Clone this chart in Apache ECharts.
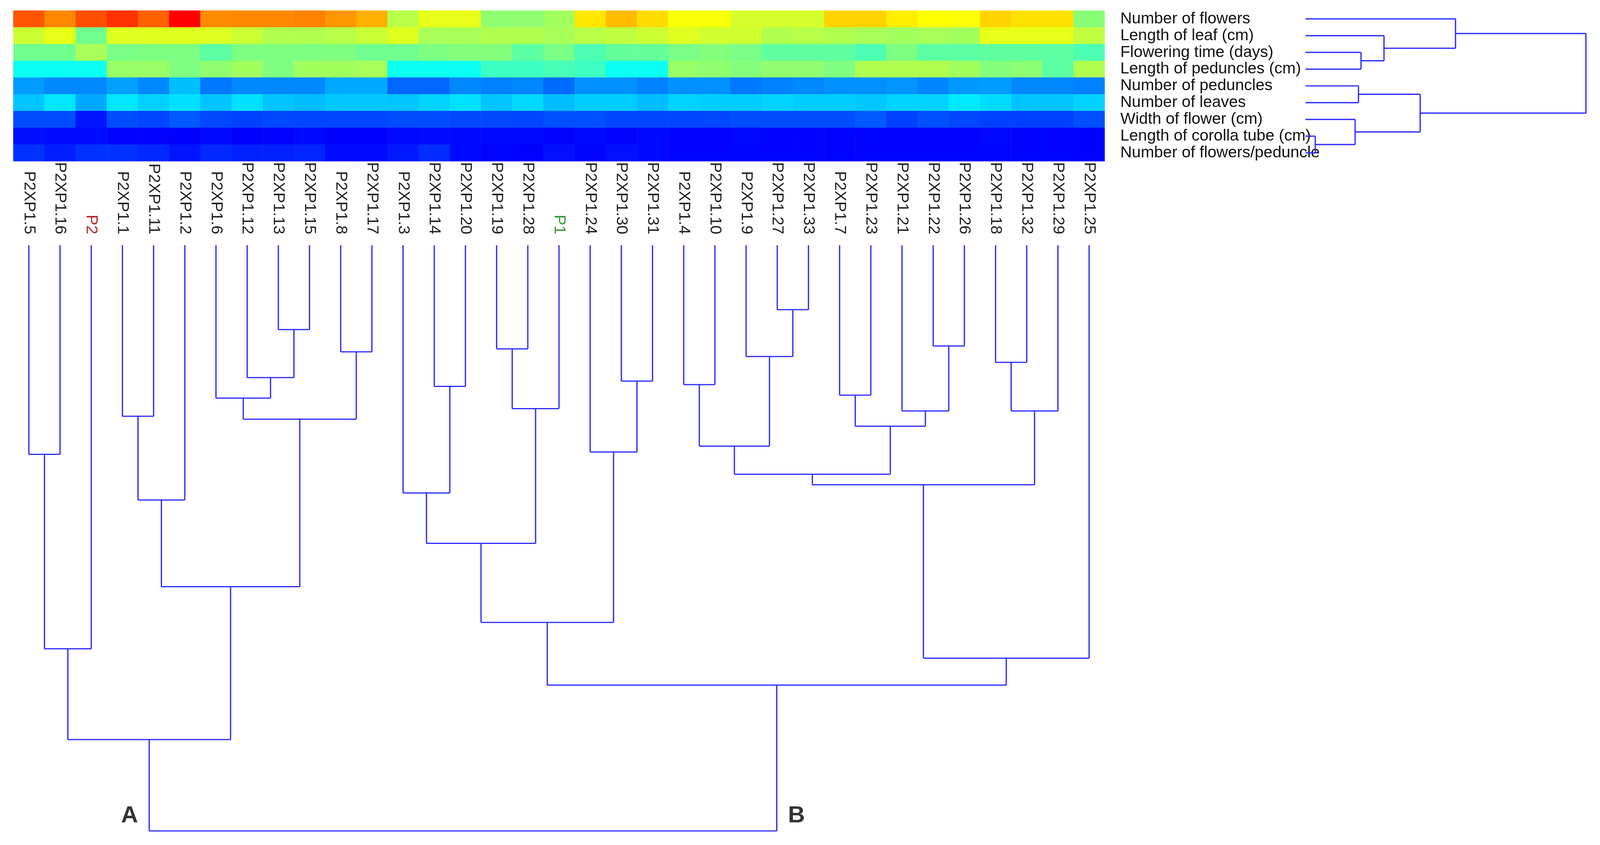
<!DOCTYPE html>
<html><head><meta charset="utf-8">
<script src="https://cdn.jsdelivr.net/npm/echarts@6/dist/echarts.min.js"></script>
<style>html,body{margin:0;padding:0;background:#fff}#c{width:4299px;height:2164px}</style>
</head><body><div id="c"></div><script>
// ---------- data ----------
const samples = ['P2XP1.5','P2XP1.16','P2','P2XP1.1','P2XP1.11','P2XP1.2','P2XP1.6','P2XP1.12','P2XP1.13','P2XP1.15','P2XP1.8','P2XP1.17','P2XP1.3','P2XP1.14','P2XP1.20','P2XP1.19','P2XP1.28','P1','P2XP1.24','P2XP1.30','P2XP1.31','P2XP1.4','P2XP1.10','P2XP1.9','P2XP1.27','P2XP1.33','P2XP1.7','P2XP1.23','P2XP1.21','P2XP1.22','P2XP1.26','P2XP1.18','P2XP1.32','P2XP1.29','P2XP1.25'];
const parentColors = {'P2':'#b52a2a','P1':'#3a9a3a'};
const traits = ['Number of flowers','Length of leaf (cm)','Flowering time (days)','Length of peduncles (cm)','Number of peduncles','Number of leaves','Width of flower (cm)','Length of corolla tube (cm)','Number of flowers/peduncle'];

const numberOfFlowers   = [32.9,30.6,33.2,34.5,32.4,36.7,30.4,30.6,30.6,30.9,29.9,28.8,22.0,24.2,24.2,20.2,20.2,21.0,26.3,28.3,26.8,24.9,24.9,23.3,23.3,23.3,27.2,27.2,26.0,25.2,25.0,27.2,26.6,26.6,19.9];
const lengthOfLeaf      = [22.9,24.2,18.8,23.8,23.8,23.8,23.7,22.9,21.7,21.7,22.0,22.8,23.8,21.3,21.3,21.7,21.7,21.3,22.0,22.4,22.9,23.8,23.1,23.1,21.7,22.0,21.7,21.3,21.0,21.3,21.0,24.2,24.2,24.2,22.4];
const floweringTime     = [18.8,18.8,21.3,19.2,19.5,19.4,17.9,19.4,19.5,19.4,19.5,18.8,18.8,19.4,19.7,19.7,17.9,19.2,17.2,18.3,18.3,19.2,19.7,19.2,18.1,18.1,18.1,17.2,19.4,17.9,17.9,18.1,18.1,17.9,17.2];
const lengthOfPeduncles = [14.3,14.3,14.3,20.6,20.6,19.5,20.2,21.0,19.5,21.0,21.0,21.3,14.3,14.3,14.3,16.5,16.5,17.0,16.5,14.3,14.3,20.6,20.2,19.7,20.2,20.2,19.5,21.7,21.7,21.7,21.0,19.7,20.1,17.9,21.7];
const numberOfPeduncles = [9.3,8.4,8.4,9.5,8.4,10.9,7.7,8.4,8.4,8.4,9.9,9.9,6.9,6.9,8.4,8.1,8.4,7.1,8.8,8.8,8.1,8.8,8.8,7.7,8.1,8.4,8.8,8.8,9.0,8.3,9.1,9.3,8.4,8.4,8.1];
const numberOfLeaves    = [11.1,12.7,9.9,12.7,11.7,12.4,11.1,12.4,11.1,10.8,11.3,11.3,11.1,11.8,12.4,11.1,12.0,10.8,11.5,11.5,10.8,11.8,11.5,11.5,11.8,11.5,11.5,11.3,11.8,11.8,12.8,12.2,11.1,11.1,11.8];
const widthOfFlower     = [5.7,5.7,3.2,5.7,5.4,6.3,5.5,5.2,5.5,5.4,5.4,5.4,5.7,5.7,5.5,5.5,5.4,5.9,5.9,5.4,5.4,5.4,5.5,5.7,5.7,5.7,5.7,6.3,5.2,5.9,5.5,5.2,5.2,5.2,5.9];
const lengthOfCorolla   = [3.0,2.8,2.8,2.5,2.5,2.3,2.7,2.3,2.5,2.7,2.3,2.3,2.7,2.8,2.7,2.7,2.7,2.5,2.7,2.5,2.7,2.5,2.5,2.6,2.5,2.5,2.5,2.4,2.5,2.5,2.5,2.6,2.5,2.5,2.3];
const flowersPerPeduncle= [4.5,3.6,4.5,4.5,4.1,3.2,4.1,3.7,3.7,3.9,2.8,2.8,3.4,4.3,2.7,2.5,2.3,3.0,2.5,3.0,2.7,2.5,2.5,2.5,2.5,2.5,2.5,2.5,2.5,2.5,2.5,2.5,2.5,2.5,2.3];

// linkage: [childA, childB, height]; indices >= leaf count refer to earlier merges
const sampleMerges = [
  [8,9,14.4],[7,35,22.6],[6,36,26.1],[10,11,18.2],[37,38,29.7],[3,4,29.2],[40,5,43.5],[41,39,58.3],
  [0,1,35.7],[43,2,68.9],[44,42,84.4],
  [13,14,24.1],[12,46,42.3],[15,16,17.7],[48,17,27.9],[47,49,50.9],[19,20,23.2],[18,51,35.3],[50,52,64.4],
  [24,25,11.0],[23,54,19.0],[21,22,23.8],[56,55,34.3],[26,27,25.6],[29,30,17.2],[28,59,28.3],[58,60,30.9],
  [57,61,39.1],[31,32,20.0],[63,33,28.3],[62,64,40.9],[65,34,70.5],[53,66,75.1],[45,67,100]
];
const traitMerges = [
  [2,3,19.8],[1,9,28.0],[0,10,53.5],[4,5,18.9],[7,8,3.5],[6,13,17.7],[12,14,40.9],[11,15,100]
];
const clusterLabels = [{name:'A', merge:10, side:-1}, {name:'B', merge:32, side:1}];
const colorbarTicks = [2.3, 13.8, 25.2, 36.7];
const valueMin = 2.3, valueMax = 36.7;

// ---------- build ----------
const traitRows = [numberOfFlowers,lengthOfLeaf,floweringTime,lengthOfPeduncles,numberOfPeduncles,numberOfLeaves,widthOfFlower,lengthOfCorolla,flowersPerPeduncle];
const heatData = [];
traitRows.forEach((row, r) => row.forEach((v, c) => heatData.push([c, r, v])));

function buildTree(merges, n) {
  const pos = [], ht = [], segs = [];
  for (let i = 0; i < n; i++) { pos.push(i); ht.push(0); }
  merges.forEach(([a, b, h]) => {
    segs.push([pos[a], ht[a], pos[a], h]);
    segs.push([pos[b], ht[b], pos[b], h]);
    segs.push([pos[a], h, pos[b], h]);
    pos.push((pos[a] + pos[b]) / 2); ht.push(h);
  });
  return { segs, pos, ht };
}
const colTree = buildTree(sampleMerges, samples.length);
const rowTree = buildTree(traitMerges, traits.length);
const rowSegs = rowTree.segs.map(s => [s[1], s[0], s[3], s[2]]);
const labelData = clusterLabels.map(l => {
  const node = samples.length + l.merge;
  return { value: [colTree.pos[node] + l.side * 0.63, 97.4], name: l.name };
});

const lineColor = '#2a2aff';
function segRender(params, api) {
  const p1 = api.coord([api.value(0), api.value(1)]);
  const p2 = api.coord([api.value(2), api.value(3)]);
  return { type: 'line', shape: { x1: p1[0], y1: p1[1], x2: p2[0], y2: p2[1] },
           style: { stroke: lineColor, lineWidth: 3.2 } };
}

const FONT = 'Liberation Sans, Arial, sans-serif';
const hidden = { show: false };
const chart = echarts.init(document.getElementById('c'));
chart.setOption({
  backgroundColor: '#ffffff',
  animation: false,
  grid: [
    { left: 34, top: 27, width: 2794, height: 386 },
    { left: 34, top: 628, width: 2794, height: 1500 },
    { left: 3342, top: 27, width: 718, height: 386 },
    { left: 4155, top: 711, width: 41, height: 710 }
  ],
  xAxis: [
    { gridIndex: 0, type: 'category', data: samples, show: false },
    { gridIndex: 1, type: 'value', min: -0.5, max: 34.5, show: false },
    { gridIndex: 1, type: 'category', position: 'top', data: samples.map(s => parentColors[s] ? { value: s, textStyle: { color: parentColors[s] } } : s),
      axisLine: hidden, axisTick: hidden, splitLine: hidden,
      axisLabel: { interval: 0, rotate: 90, margin: 28, fontSize: 41, color: '#222', fontFamily: FONT } },
    { gridIndex: 2, type: 'value', min: 0, max: 100, show: false },
    { gridIndex: 3, type: 'value', show: false }
  ],
  yAxis: [
    { gridIndex: 0, type: 'category', data: traits, inverse: true, position: 'right',
      axisLine: hidden, axisTick: hidden, splitLine: hidden,
      axisLabel: { interval: 0, margin: 40, fontSize: 41, color: '#111', fontFamily: FONT } },
    { gridIndex: 1, type: 'value', min: 0, max: 100, inverse: true, show: false },
    { gridIndex: 2, type: 'value', min: -0.5, max: 8.5, inverse: true, show: false },
    { gridIndex: 3, type: 'value', min: valueMin, max: valueMax, position: 'right',
      axisLine: hidden, axisTick: hidden, splitLine: hidden,
      axisLabel: { customValues: colorbarTicks, margin: 10, fontSize: 38, color: '#222', fontFamily: FONT,
                   formatter: v => v.toFixed(1) } }
  ],
  visualMap: {
    type: 'continuous', min: valueMin, max: valueMax, seriesIndex: 0, calculable: false,
    orient: 'vertical', left: 4155, top: 711, itemWidth: 41, itemHeight: 710, padding: 0,
    inRange: { color: ['#0000ff', '#00ffff', '#ffff00', '#ff0000'] },
    controller: { inRange: { color: ['#4040ff', '#40ffff', '#ffff40', '#ff4040'] } }
  },
  series: [
    { type: 'heatmap', xAxisIndex: 0, yAxisIndex: 0, data: heatData, itemStyle: { borderWidth: 0 } },
    { type: 'custom', xAxisIndex: 1, yAxisIndex: 1, data: colTree.segs, renderItem: segRender },
    { type: 'custom', xAxisIndex: 3, yAxisIndex: 2, data: rowSegs, renderItem: segRender },
    { type: 'scatter', xAxisIndex: 1, yAxisIndex: 1, data: labelData, symbolSize: 0,
      label: { show: true, position: 'inside', formatter: p => p.name, fontSize: 60, fontWeight: 'bold', color: '#000', fontFamily: FONT } }
  ]
});
</script></body></html>
